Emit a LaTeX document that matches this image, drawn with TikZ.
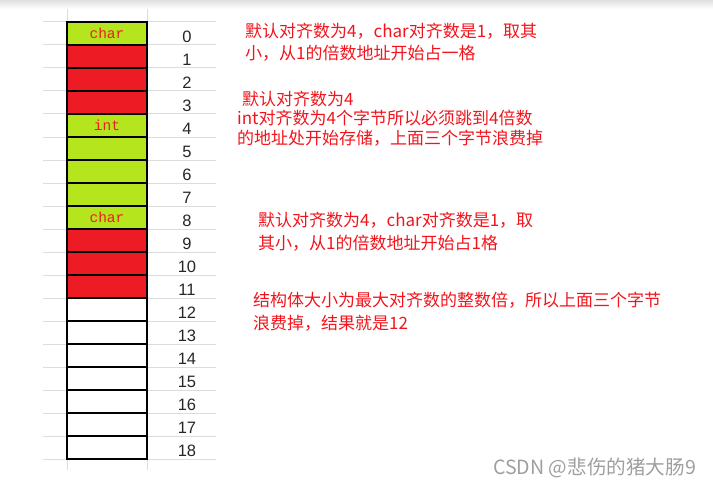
\documentclass[tikz,border=0pt]{standalone}
\usepackage{fontspec}
\setmainfont{Liberation Sans}
\newfontfamily\cjk{Noto Sans CJK SC}
\newfontfamily\mono{Liberation Mono}
\usetikzlibrary{positioning}

\definecolor{cellgreen}{HTML}{B5E61D}
\definecolor{cellred}{HTML}{ED1C24}
\definecolor{notered}{HTML}{F2141C}
\definecolor{gridgray}{HTML}{DCDCDC}

\begin{document}
\begin{tikzpicture}[
        x=1pt, y=-1pt,
        cell/.style={rectangle, draw=black, line width=1.1pt, minimum width=80pt, minimum height=23pt, inner sep=0pt, text=cellred, font=\mono\fontsize{14.5}{14.5}\selectfont},
        idx/.style={inner sep=0pt, text=black!85, font=\fontsize{16.5}{16.5}\selectfont},
        note/.style={anchor=north west, align=left, inner sep=0pt, text=notered, font=\cjk\fontsize{17}{22}\selectfont}
    ]
        \useasboundingbox (0,0) rectangle (713,487);
        \shade[top color=gray!25, bottom color=white] (0,0) rectangle (713,9);

        % sheet grid behind the cells
        \foreach \k in {0,...,19}
            \draw[gridgray, line width=1pt] (43,22+23*\k) -- (216,22+23*\k);
        \draw[gridgray, line width=1pt] (67,9) -- (67,470) (147,9) -- (147,470);

        % memory cells and offsets
        \foreach \i/\f/\t in {0/cellgreen/char, 1/cellred/{}, 2/cellred/{}, 3/cellred/{},
                4/cellgreen/int, 5/cellgreen/{}, 6/cellgreen/{}, 7/cellgreen/{},
                8/cellgreen/char, 9/cellred/{}, 10/cellred/{}, 11/cellred/{},
                12/white/{}, 13/white/{}, 14/white/{}, 15/white/{}, 16/white/{}, 17/white/{}, 18/white/{}} {
            \node[cell, fill=\f] (c\i) at (107,33.5+23*\i) {\t};
            \node[idx] (n\i) at ([xshift=80pt, yshift=-3pt]c\i.center) {\i};
        }

        % notes
        \node[note] (first) at (245,22.5) {默认对齐数为4，char对齐数是1，取其\\小，从1的倍数地址开始占一格};
        \node[note] (second) at (242,90.5) {默认对齐数为4};
        \node[note, font=\cjk\fontsize{17}{20}\selectfont] (third) at (237,109.5) {int对齐数为4个字节所以必须跳到4倍数\\的地址处开始存储，上面三个字节浪费掉};
        \node[note, font=\cjk\fontsize{17}{23}\selectfont] (fourth) at (258,211.5) {默认对齐数为4，char对齐数是1，取\\其小，从1的倍数地址开始占1格};
        \node[note, font=\cjk\fontsize{17}{23}\selectfont] (total) at (253,291.5) {结构体大小为最大对齐数的整数倍，所以上面三个字节\\浪费掉，结果就是12};

        \node[note, text=gray!75, font=\cjk\fontsize{19.6}{19.6}\selectfont] (mark) at (493,458) {CSDN @悲伤的猪大肠9};
    \end{tikzpicture}
\end{document}
